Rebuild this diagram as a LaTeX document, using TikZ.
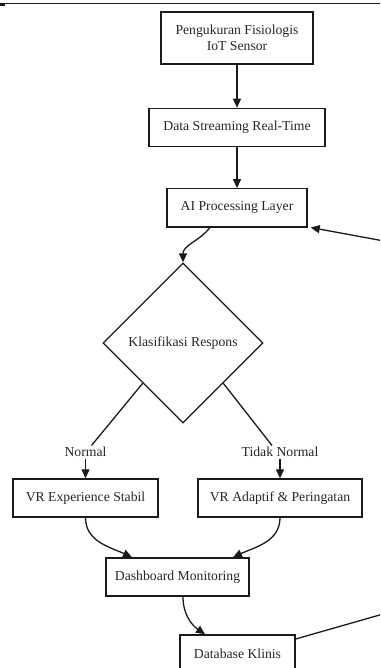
\documentclass[tikz,border=0pt]{standalone}
\usepackage{fontspec}
\setmainfont{Liberation Serif}
\usetikzlibrary{arrows.meta,positioning,shapes.geometric}
\definecolor{inkline}{HTML}{1A1A1A}
\definecolor{inktext}{HTML}{262626}

\begin{document}
\begin{tikzpicture}[
  x=1pt, y=1pt,
  font=\fontsize{13.7}{16}\selectfont, text=inktext,
  box/.style={draw=inkline, line width=1.4pt, align=center, inner sep=4pt, minimum height=38pt},
  decision/.style={draw=inkline, line width=1.3pt, diamond, aspect=1, inner sep=0pt, minimum width=160pt, minimum height=160pt},
  lbl/.style={inner sep=1.5pt},
  arr/.style={-{Triangle[length=9pt,width=8pt]}, line width=1.3pt, draw=inkline}
]
\useasboundingbox (0,0) rectangle (380,-668);
\clip (0,0) rectangle (380,-668);
% page rule at the top
\draw[inkline, line width=1pt] (0,-4) -- (380,-4);
\fill[inkline] (0,-3) rectangle (5,-5.7);

% main chain
\node[box, minimum width=152pt, minimum height=52pt] (sensor) at (237,-38) {Pengukuran Fisiologis\\IoT Sensor};
\node[box, minimum width=176pt, below=43pt of sensor] (stream) {Data Streaming Real-Time};
\node[box, minimum width=140pt, below=41pt of stream] (ai) {AI Processing Layer};
\node[decision] (klas) at (183,-343) {Klasifikasi Respons};

% branches
\node[lbl] (normal) at (85.5,-452) {Normal};
\node[lbl] (tidak) at (280,-452) {Tidak Normal};
\node[box, minimum width=145pt] (vrstabil) at (85.5,-498) {VR Experience Stabil};
\node[box, minimum width=164pt] (vradaptif) at (280,-498) {VR Adaptif \& Peringatan};
\node[box, minimum width=143pt] (dash) at (177.5,-577) {Dashboard Monitoring};
\node[box, minimum width=115pt] (db) at (237.5,-654) {Database Klinis};

% feedback loop runs off the right edge
\coordinate (loopB) at (460,-592);
\coordinate (loopT) at (460,-255);

\draw[arr] (sensor) -- (stream);
\draw[arr] (stream) -- (ai);
\draw[arr] ([xshift=-27pt]ai.south) to[out=232, in=90] (klas.north);
\draw[line width=1.3pt, inkline] (klas.south west) -- ([xshift=6pt]normal.north);
\draw[line width=1.3pt, inkline] (klas.south east) -- ([xshift=-8pt]tidak.north);
\draw[arr] (normal) -- (vrstabil);
\draw[arr] (tidak) -- (vradaptif);
\draw[arr] (vrstabil.south) to[out=270, in=155] ([xshift=-45.5pt]dash.north);
\draw[arr] (vradaptif.south) to[out=270, in=25] ([xshift=55.5pt]dash.north);
\draw[arr] ([xshift=5.5pt]dash.south) to[out=270, in=145] ([xshift=-32.5pt]db.north);
\draw[arr] ([yshift=15pt]db.east) -- (loopB) -- (loopT) -- ([xshift=3pt]ai.south east);
\end{tikzpicture}
\end{document}
